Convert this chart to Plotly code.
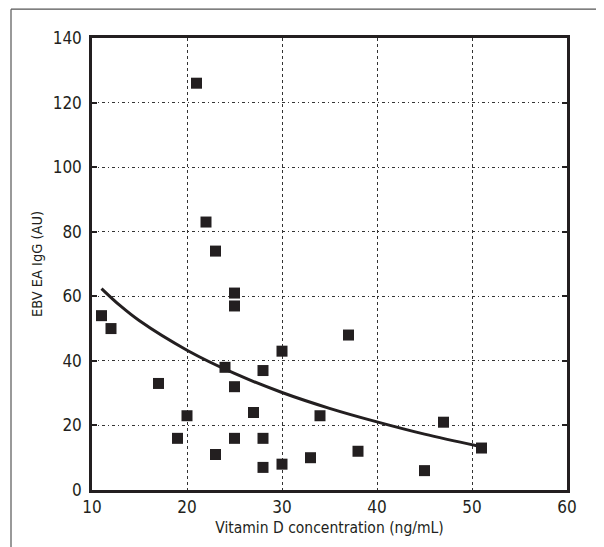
import plotly.graph_objects as go

# Scatter data: vitamin D (ng/mL) vs EBV EA IgG (AU)
vit_d = [11, 12, 17, 19, 20, 21, 22, 23, 23, 24, 25, 25, 25, 25, 27, 28, 28, 28,
         30, 30, 33, 34, 37, 38, 45, 47, 51]
ebv_ea = [54, 50, 33, 16, 23, 126, 83, 74, 11, 38, 61, 57, 32, 16, 24, 37, 16, 7,
          43, 8, 10, 23, 48, 12, 6, 21, 13]

# Trend curve points
curve_x = [11, 13, 15, 20, 25, 30, 35, 40, 45, 50.5]
curve_y = [62.4, 57.0, 52.4, 43.3, 36.1, 30.2, 25.3, 21.1, 17.3, 13.7]

x_ticks = [10, 20, 30, 40, 50, 60]
y_ticks = [0, 20, 40, 60, 80, 100, 120, 140]

FONT = "Liberation Sans Narrow, DejaVu Sans Condensed, Roboto Condensed, Arial Narrow, sans-serif"
INK = "#231f20"

W, H = 604, 547
ML, MR, MT, MB = 84, 45, 29.5, 65
pw, ph = W - ML - MR, H - MT - MB

fig = go.Figure()
fig.add_trace(go.Scatter(
    x=curve_x, y=curve_y, mode="lines",
    line=dict(color=INK, width=3, shape="spline"),
    hoverinfo="skip", showlegend=False))
fig.add_trace(go.Scatter(
    x=vit_d, y=ebv_ea, mode="markers",
    marker=dict(symbol="square", size=11, color=INK, line=dict(width=0)),
    showlegend=False))

frame_x = (3 - ML) / pw
frame_y = 1 + (MT - 0.6) / ph

fig.update_layout(
    width=W, height=H,
    margin=dict(l=ML, r=MR, t=MT, b=MB),
    paper_bgcolor="white", plot_bgcolor="white",
    font=dict(family=FONT, size=16, color=INK),
    xaxis=dict(
        range=[10, 60], tickvals=x_ticks, ticktext=[str(v) for v in x_ticks],
        showgrid=True, gridcolor="#333333", gridwidth=1, griddash="dot",
        showline=True, linecolor=INK, linewidth=2.5, mirror=True,
        ticks="", zeroline=False,
        title=dict(text="Vitamin D concentration (ng/mL)", standoff=6,
                   font=dict(size=15.5)),
        tickfont=dict(size=17),
    ),
    yaxis=dict(
        range=[0, 140], tickvals=y_ticks, ticktext=[str(v) for v in y_ticks],
        showgrid=True, gridcolor="#333333", gridwidth=1, griddash="3px,3px,1px,3px",
        showline=True, linecolor=INK, linewidth=2.5, mirror="ticks",
        ticks="inside", ticklen=5, tickcolor=INK, tickwidth=1.5,
        ticklabelstandoff=4,
        zeroline=False,
        title=dict(text="EBV EA IgG (AU)", standoff=7, font=dict(size=14.5)),
        tickfont=dict(size=17),
    ),
    shapes=[
        dict(type="line", xref="paper", yref="paper", x0=frame_x, x1=frame_x,
             y0=-0.3, y1=frame_y, line=dict(color="#555555", width=1.2)),
        dict(type="line", xref="paper", yref="paper", x0=frame_x, x1=1.2,
             y0=frame_y, y1=frame_y, line=dict(color="#555555", width=1.2)),
    ],
)

fig.write_html("out.html")
